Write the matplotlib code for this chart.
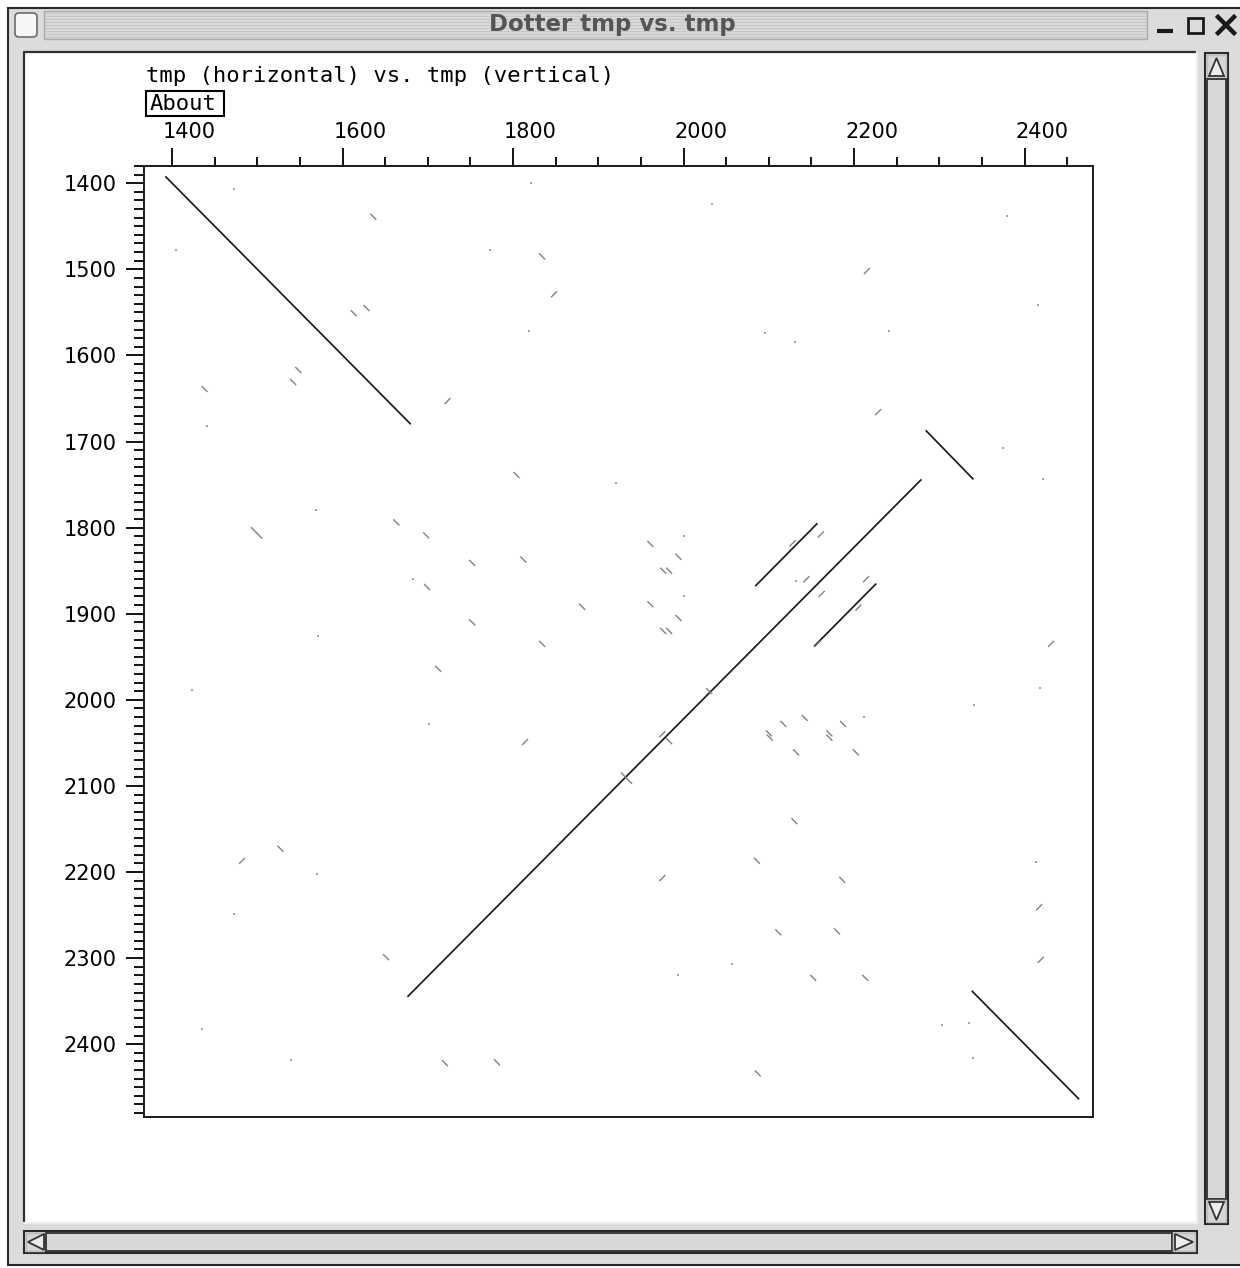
import matplotlib.pyplot as plt
from matplotlib.patches import Rectangle, Polygon, FancyBboxPatch
from matplotlib.collections import LineCollection
from matplotlib.transforms import ScaledTranslation

W, H = 1240, 1268

# long alignment runs (horizontal start, vertical start, horizontal end, vertical end)
run_x0 = [1392, 1676, 2284, 2084, 2153, 2338]
run_y0 = [1392, 2345, 1687, 1868, 1938, 2338]
run_x1 = [1680, 2279, 2340, 2157, 2226, 2464]
run_y1 = [1680, 1744, 1744, 1795, 1865, 2464]

# short forward matches, centre points
fwd_x = [1636, 1834, 1613, 1628, 1548, 1542, 1438, 1804, 1663, 1496, 1502, 1698,
         1812, 1752, 1699, 1881, 1752, 1961, 1994, 1976, 1983, 1961, 1994, 1976,
         1983, 1834, 1712, 1527, 1651, 1720, 1781, 2030, 2142, 2117, 2187, 2100,
         2101, 2171, 2171, 2132, 2202, 1983, 1930, 1936, 2130, 2086, 2186, 2111,
         2180, 2152, 2213, 2087]
fwd_y = [1439, 1485, 1551, 1545, 1617, 1631, 1639, 1739, 1794, 1803, 1809, 1809,
         1837, 1841, 1869, 1892, 1910, 1819, 1834, 1850, 1850, 1889, 1905, 1920,
         1920, 1935, 1964, 2173, 2299, 2422, 2421, 1990, 2021, 2028, 2028, 2039,
         2044, 2039, 2044, 2061, 2061, 2048, 2088, 2094, 2141, 2187, 2209, 2270,
         2269, 2323, 2323, 2434]

# short reverse matches, centre points
rev_x = [1848, 1723, 2215, 2228, 2161, 2128, 2144, 2214, 2162, 2205, 1814, 1482,
         2157, 2431, 1975, 1975, 2417, 2419]
rev_y = [1529, 1653, 1502, 1666, 1808, 1818, 1860, 1860, 1877, 1893, 2049, 2187,
         1935, 1935, 2040, 2207, 2241, 2302]

# isolated weak hits
dot_x = [1473, 1821, 1404, 1773, 1819, 1441, 1921, 1569, 1682, 1571, 2033, 2379,
         2416, 2096, 2241, 2131, 2375, 2422, 2001, 2132, 2001, 1423, 1701, 1570,
         1473, 1435, 1540, 2341, 2418, 2212, 2413, 2057, 1994, 2303, 2335, 2340]
dot_y = [1407, 1400, 1477, 1477, 1572, 1682, 1748, 1780, 1860, 1926, 1424, 1438,
         1542, 1574, 1572, 1585, 1707, 1743, 1810, 1862, 1880, 1989, 2028, 2202,
         2249, 2382, 2418, 2006, 1986, 2020, 2188, 2307, 2320, 2378, 2375, 2416]

x_major = list(range(1400, 2401, 200))
x_minor = [v for v in range(1400, 2451, 50) if v % 200]
y_major = list(range(1400, 2401, 100))
y_minor = [v for v in range(1380, 2481, 10) if v % 100]

fig = plt.figure(figsize=(W / 100, H / 100), dpi=100)
fig.patch.set_facecolor('white')

# window decoration drawn in pixel units
bg = fig.add_axes([0, 0, 1, 1])
bg.set_xlim(0, W)
bg.set_ylim(H, 0)
bg.axis('off')


def box(x0, y0, x1, y1, fc='none', ec='none', lw=1.0, z=1):
    bg.add_patch(Rectangle((x0, y0), x1 - x0, y1 - y0, facecolor=fc,
                           edgecolor=ec, linewidth=lw, zorder=z))


box(8, 8, W + 5, H - 3, fc='#dcdcdc', ec='#2a2a2a', lw=1.5)

# title bar
box(44, 11, 1147, 39, fc='#dadada', ec='#a8a8a8', lw=1.0, z=2)
for yy in range(13, 39, 3):
    bg.plot([45, 1146], [yy, yy], color='#c6c6c6', lw=0.8, zorder=3)
bg.add_patch(FancyBboxPatch((15, 13), 22, 24, boxstyle='round,pad=0,rounding_size=4',
                            facecolor='#f6f6f6', edgecolor='#6a6a6a', lw=1.2, zorder=3))
bg.text(612, 25, 'Dotter tmp vs. tmp', ha='center', va='center', fontsize=16.5,
        fontweight='bold', color='#555555', family='DejaVu Sans', zorder=4)
bg.plot([1157, 1173], [31, 31], color='#1a1a1a', lw=3, solid_capstyle='butt', zorder=4)
box(1188, 18, 1203, 33, ec='#1a1a1a', lw=2, z=4)
bg.plot([1218, 1234], [17, 33], color='#1a1a1a', lw=3.2, zorder=4)
bg.plot([1218, 1234], [33, 17], color='#1a1a1a', lw=3.2, zorder=4)

# drawing area
box(24, 52, 1197, 1223, fc='white', z=2)
bg.plot([24, 24, 1197], [1223, 52, 52], color='#303030', lw=1.6, zorder=3)
bg.plot([24, 1197, 1197], [1223, 1223, 52], color='#eeeeee', lw=1.6, zorder=3)

# vertical scrollbar
box(1205, 53, 1228, 1224, fc='#d2d2d2', ec='#2a2a2a', lw=1.5, z=2)
box(1207, 55, 1226, 78, fc='#d6d6d6', ec='#bbbbbb', lw=1, z=3)
bg.add_patch(Polygon([(1216.5, 58), (1209, 76), (1224, 76)], closed=True,
                     facecolor='#ececec', edgecolor='#333333', lw=1.3, zorder=4))
box(1207, 79, 1226, 1199, fc='#d8d8d8', ec='#3a3a3a', lw=1.4, z=3)
box(1207, 1200, 1226, 1222, fc='#d6d6d6', ec='#bbbbbb', lw=1, z=3)
bg.add_patch(Polygon([(1209, 1202), (1224, 1202), (1216.5, 1220)], closed=True,
                     facecolor='#ececec', edgecolor='#333333', lw=1.3, zorder=4))

# horizontal scrollbar
box(24, 1231, 1197, 1253, fc='#d2d2d2', ec='#2a2a2a', lw=1.5, z=2)
box(26, 1233, 45, 1251, fc='#d6d6d6', ec='#bbbbbb', lw=1, z=3)
bg.add_patch(Polygon([(28, 1242), (44, 1234), (44, 1250)], closed=True,
                     facecolor='#ececec', edgecolor='#333333', lw=1.3, zorder=4))
box(46, 1233, 1172, 1251, fc='#d8d8d8', ec='#3a3a3a', lw=1.4, z=3)
box(1173, 1233, 1195, 1251, fc='#d6d6d6', ec='#bbbbbb', lw=1, z=3)
bg.add_patch(Polygon([(1175, 1234), (1175, 1250), (1193, 1242)], closed=True,
                     facecolor='#ececec', edgecolor='#333333', lw=1.3, zorder=4))

# header text and button
bg.text(146, 76, 'tmp (horizontal) vs. tmp (vertical)', ha='left', va='center',
        fontsize=16, family='DejaVu Sans Mono', color='black', zorder=4)
box(146, 91, 224, 116, ec='black', lw=1.5, z=4)
bg.text(150, 104, 'About', ha='left', va='center', fontsize=16,
        family='DejaVu Sans Mono', color='black', zorder=4)

# dot plot
ax = fig.add_axes([144 / W, 1 - 1116.5 / H, 948.8 / W, 950.5 / H])
ax.set_facecolor('white')
ax.set_xlim(1367, 2480)
ax.set_ylim(2484, 1380)

runs = [[(a, b), (c, d)] for a, b, c, d in zip(run_x0, run_y0, run_x1, run_y1)]
ax.add_collection(LineCollection(runs, colors='#1c1c1c', linewidths=1.25))

h = 3.5
fwd = [[(x - h, y - h), (x + h, y + h)] for x, y in zip(fwd_x, fwd_y)]
rev = [[(x - h, y + h), (x + h, y - h)] for x, y in zip(rev_x, rev_y)]
ax.add_collection(LineCollection(fwd + rev, colors='#808080', linewidths=1.0))
ax.scatter(dot_x, dot_y, s=2.5, marker='s', color='#a4a4a4', linewidths=0)

ax.xaxis.tick_top()
ax.set_xticks(x_major)
ax.set_xticks(x_minor, minor=True)
ax.set_yticks(y_major)
ax.set_yticks(y_minor, minor=True)
ax.tick_params(axis='x', which='major', length=13, width=1.3, pad=4, labelsize=15)
ax.tick_params(axis='x', which='minor', length=6.5, width=1.3)
ax.tick_params(axis='y', which='major', length=13, width=1.3, pad=6.5, labelsize=15)
ax.tick_params(axis='y', which='minor', length=7.2, width=1.3)
for sp in ax.spines.values():
    sp.set_linewidth(1.4)
    sp.set_color('#1a1a1a')

shift = ScaledTranslation(-9 / 100, 0, fig.dpi_scale_trans)
for lab in ax.get_xticklabels():
    lab.set_horizontalalignment('left')
    lab.set_transform(lab.get_transform() + shift)

fig.savefig('out.png', dpi=100)
